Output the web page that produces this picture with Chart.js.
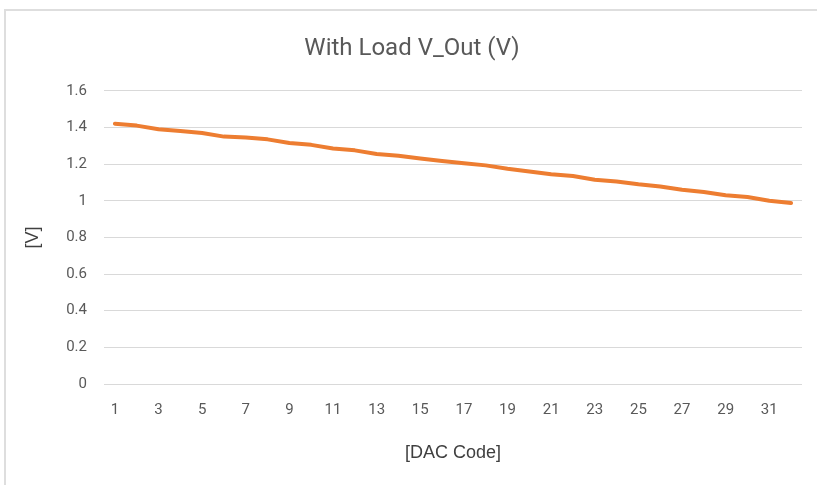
<!DOCTYPE html>
<html>
<head>
<meta charset="utf-8">
<script src="https://cdn.jsdelivr.net/npm/chart.js@4.4.1/dist/chart.umd.min.js"></script>
<style>
  html, body { margin: 0; padding: 0; background: #ffffff; }
  #wrap { position: relative; width: 817px; height: 485px; overflow: hidden; }
  #frame {
    position: absolute; left: 4px; top: 9px; width: 900px; height: 600px;
    border-left: 2px solid #dedede; border-top: 2px solid #dedede;
    box-sizing: border-box;
  }
  canvas { position: absolute; left: 0; top: 0; }
</style>
</head>
<body>
<div id="wrap">
  <div id="frame"></div>
  <canvas id="chart" width="817" height="485"></canvas>
</div>
<script>
// DAC codes 1..32
const dacCodes = [1, 2, 3, 4, 5, 6, 7, 8, 9, 10, 11, 12, 13, 14, 15, 16,
                  17, 18, 19, 20, 21, 22, 23, 24, 25, 26, 27, 28, 29, 30, 31, 32];

// Output voltage with load, in volts
const vOut = [1.42, 1.41, 1.39, 1.38, 1.37, 1.35, 1.345, 1.335, 1.315, 1.305, 1.285, 1.275,
              1.255, 1.245, 1.23, 1.217, 1.205, 1.193, 1.175, 1.16, 1.145, 1.135, 1.115, 1.105,
              1.09, 1.078, 1.06, 1.048, 1.03, 1.02, 1.0, 0.988];

const yTicks = [0, 0.2, 0.4, 0.6, 0.8, 1, 1.2, 1.4, 1.6];

const chartTitle = 'With Load V_Out (V)';
const yTitle = '[V]';
const xTitle = '[DAC Code]';

const textGray = '#595959';
const gridGray = '#d9d9d9';
const narrowFont = "'Liberation Sans Narrow', 'Roboto', sans-serif";
const plainFont = "'Liberation Sans', Arial, sans-serif";

new Chart(document.getElementById('chart'), {
  type: 'line',
  data: {
    labels: dacCodes,
    datasets: [{
      label: chartTitle,
      data: vOut,
      borderColor: '#ED7D31',
      backgroundColor: '#ED7D31',
      borderWidth: 4,
      pointRadius: 0,
      tension: 0,
      borderCapStyle: 'round',
      borderJoinStyle: 'round'
    }]
  },
  options: {
    responsive: false,
    animation: false,
    layout: { padding: { top: 20, left: 22, right: 15, bottom: 12 } },
    plugins: {
      legend: { display: false },
      tooltip: { enabled: false },
      title: {
        display: true,
        text: chartTitle,
        color: textGray,
        font: { family: narrowFont, size: 24, weight: 'normal' },
        padding: { top: 15, bottom: 27 }
      }
    },
    scales: {
      x: {
        type: 'category',
        offset: true,
        grid: { display: false, drawTicks: false },
        border: { display: false },
        ticks: {
          color: textGray,
          font: { family: narrowFont, size: 15 },
          autoSkip: false,
          maxRotation: 0,
          padding: 17,
          callback: function (val, idx) {
            return idx % 2 === 0 ? this.getLabelForValue(val) : '';
          }
        },
        title: {
          display: true,
          text: xTitle,
          color: '#404040',
          font: { family: plainFont, size: 18 },
          padding: { top: 8, bottom: 9 }
        },
        afterFit: (s) => { s.height = 89; }
      },
      y: {
        min: 0,
        max: 1.6,
        afterBuildTicks: (s) => { s.ticks = yTicks.map(v => ({ value: v })); },
        grid: { color: gridGray, lineWidth: 1, drawTicks: false },
        border: { display: false },
        ticks: {
          color: textGray,
          font: { family: narrowFont, size: 15 },
          padding: 17,
          callback: (v) => String(Math.round(v * 10) / 10)
        },
        title: {
          display: true,
          text: yTitle,
          color: '#404040',
          font: { family: plainFont, size: 18 },
          padding: { top: 0, bottom: 10 }
        },
        afterFit: (s) => { s.width = 82; }
      }
    }
  }
});
</script>
</body>
</html>
